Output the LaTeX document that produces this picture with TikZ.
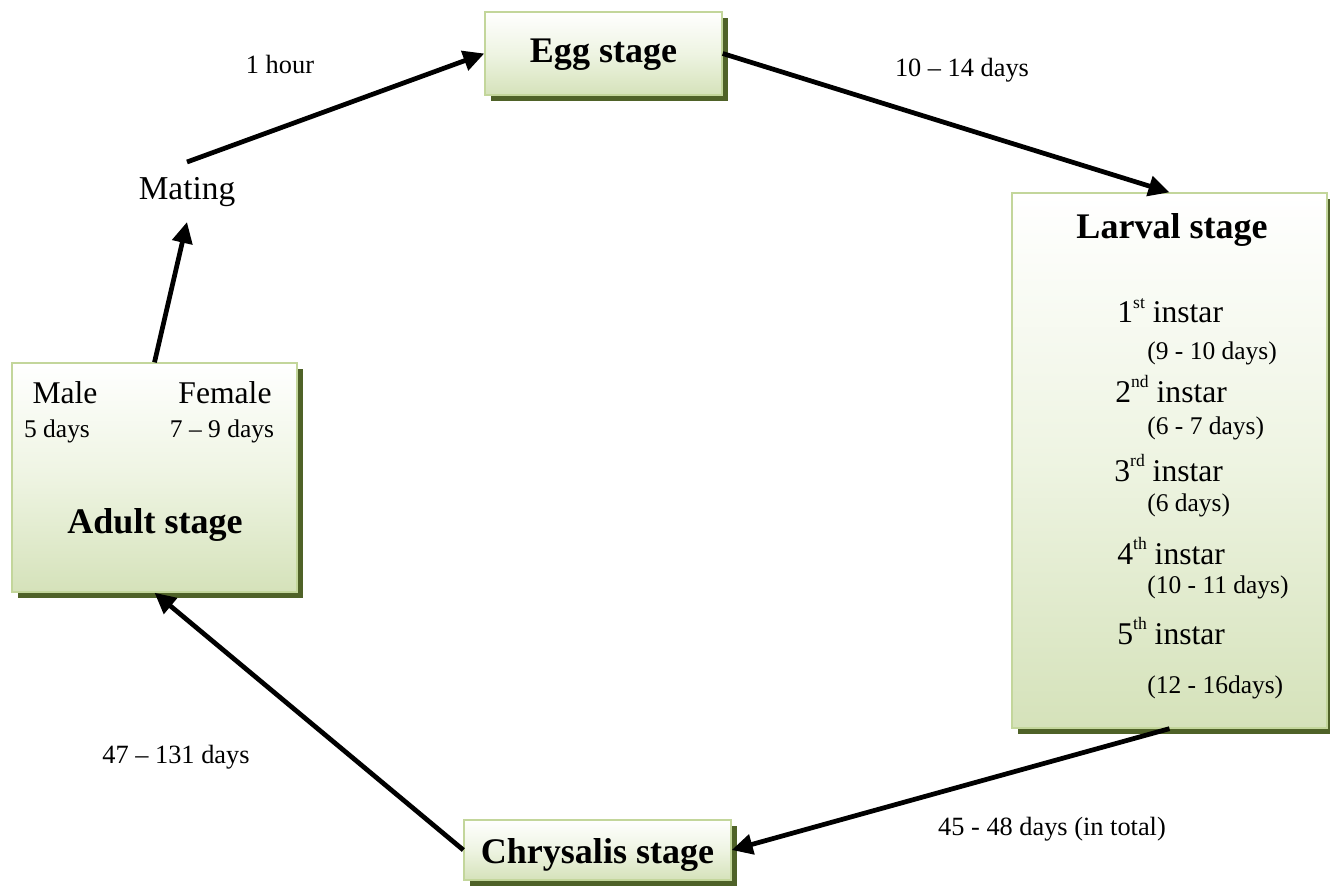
\documentclass[tikz,border=0pt]{standalone}
\usepackage{fontspec}
\setmainfont{Liberation Serif}
\usetikzlibrary{arrows.meta,shadows}
\definecolor{boxtop}{HTML}{FFFFFF}
\definecolor{boxbot}{HTML}{D5E2BA}
\definecolor{boxmid}{HTML}{EEF4E2}
\definecolor{boxline}{HTML}{C3D69B}
\definecolor{boxshadow}{HTML}{4F6228}
\newcommand{\fsz}[1]{\fontsize{#1}{#1}\selectfont}
\newcommand{\ordsup}[1]{\raisebox{0.45em}{\fsz{10pt}#1}}
\tikzset{
  stagebox/.style={draw=boxline, line width=0.8pt, top color=boxtop, bottom color=boxbot, middle color=boxmid,
    drop shadow={shadow xshift=0.12cm, shadow yshift=-0.12cm, fill=boxshadow, opacity=1},
    inner sep=0pt},
  title/.style={font=\fsz{20.5pt}\bfseries, inner sep=0pt},
  instar/.style={font=\fsz{18pt}, anchor=west, inner sep=0pt},
  dur/.style={font=\fsz{14.5pt}, anchor=west, inner sep=0pt},
  lbl/.style={font=\fsz{15pt}, inner sep=0pt},
  flow/.style={line width=2.7pt, -{Triangle[length=0.42cm,width=0.4cm]}},
}
\begin{document}
\begin{tikzpicture}[x=0.02cm,y=-0.02cm]
\useasboundingbox[fill=white] (0,0) rectangle (1330,890);
% boxes
\node[stagebox, minimum width=4.74cm, minimum height=1.66cm] (egg) at (603.5,53.5) {};
\node[stagebox, minimum width=6.3cm, minimum height=10.7cm] (larval) at (1169.5,460.5) {};
\node[stagebox, minimum width=5.34cm, minimum height=1.2cm] (chrys) at (597.5,850) {};
\node[stagebox, minimum width=5.7cm, minimum height=4.58cm] (adult) at (154.5,477.5) {};
% box texts
\node[title] (eggt) at (603.5,55) {Egg stage};
\node[title] (larvt) at (1172,230) {Larval stage};
\node[title] (chryst) at (597.5,855) {Chrysalis stage};
\node[title] (adultt) at (155,525) {Adult stage};
\node[instar] (i1) at (1117,311) {1\ordsup{st} instar};
\node[dur] (d1) at (1147,353) {(9 - 10 days)};
\node[instar] (i2) at (1115,389) {2\ordsup{nd} instar};
\node[dur] (d2) at (1147,428) {(6 - 7 days)};
\node[instar] (i3) at (1114,468) {3\ordsup{rd} instar};
\node[dur] (d3) at (1147,505) {(6 days)};
\node[instar] (i4) at (1117,551) {4\ordsup{th} instar};
\node[dur] (d4) at (1147,587) {(10 - 11 days)};
\node[instar] (i5) at (1117,631) {5\ordsup{th} instar};
\node[dur] (d5) at (1147,687) {(12 - 16days)};
\node[font=\fsz{18pt}, inner sep=0pt] (male) at (65,393) {Male};
\node[font=\fsz{18pt}, inner sep=0pt] (female) at (225,393) {Female};
\node[font=\fsz{14.5pt}, inner sep=0pt] (md) at (57,431) {5 days};
\node[font=\fsz{14.5pt}, inner sep=0pt] (fd) at (222,431) {7 -- 9 days};
% mating
\node[font=\fsz{19pt}, inner ysep=0.3cm, inner xsep=0pt] (mating) at (187,192) {Mating};
% labels
\node[lbl] (l1) at (280,64) {1 hour};
\node[lbl] (l2) at (962,70) {10 -- 14 days};
\node[lbl] (l3) at (176,757) {47 -- 131 days};
\node[lbl] (l4) at (1052,829) {45 - 48 days (in total)};
% arrows
\draw[flow] (mating.north) -- (egg.west);
\draw[flow] (egg.east) -- (larval.north);
\draw[flow] (larval.south) -- (chrys.east);
\draw[flow] (chrys.west) -- (adult.south);
\draw[flow] (adult.north) -- (mating.south);
\end{tikzpicture}
\end{document}
